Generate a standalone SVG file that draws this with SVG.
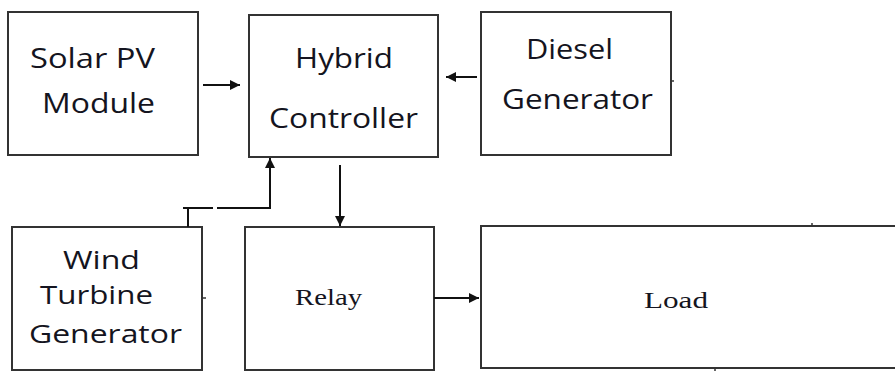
<svg xmlns="http://www.w3.org/2000/svg" width="895" height="371" viewBox="0 0 895 371">
  <defs>
    <marker id="arrow" viewBox="0 0 10 10" refX="10" refY="5" markerWidth="10" markerHeight="10" markerUnits="userSpaceOnUse" orient="auto">
      <path d="M0,0 L10,5 L0,10 Z" fill="#111"/>
    </marker>
    <style>
      .box { fill: #fff; stroke: #333; stroke-width: 2; }
      .line { fill: none; stroke: #111; stroke-width: 2; }
      .tick { fill: none; stroke: #333; stroke-width: 1.5; }
      .sans { font-family: "Open Sans", "Noto Sans", "DejaVu Sans", sans-serif; font-size: 28px; fill: #141420; }
      .tight { font-size: 25px; }
      .serif { font-family: "Liberation Serif", "DejaVu Serif", serif; font-size: 24px; fill: #141420; }
    </style>
  </defs>
  <rect width="895" height="371" fill="#fff"/>

  <g id="solar-pv">
    <rect class="box" x="8" y="12" width="190" height="143"/>
    <text class="sans" x="30" y="68" textLength="125" lengthAdjust="spacingAndGlyphs">Solar PV</text>
    <text class="sans" x="42" y="113" textLength="113" lengthAdjust="spacingAndGlyphs">Module</text>
  </g>

  <g id="hybrid-controller">
    <rect class="box" x="249" y="15" width="189" height="142"/>
    <text class="sans" x="295" y="68" textLength="98" lengthAdjust="spacingAndGlyphs">Hybrid</text>
    <text class="sans" x="269" y="128" textLength="149" lengthAdjust="spacingAndGlyphs">Controller</text>
  </g>

  <g id="diesel-generator">
    <rect class="box" x="481" y="12" width="190" height="143"/>
    <text class="sans" x="526" y="59" textLength="87" lengthAdjust="spacingAndGlyphs">Diesel</text>
    <text class="sans" x="502" y="109" textLength="151" lengthAdjust="spacingAndGlyphs">Generator</text>
    <path class="tick" d="M671,81 H674"/>
  </g>

  <g id="wind-turbine-generator">
    <rect class="box" x="12" y="227" width="190" height="143"/>
    <text class="sans tight" x="63" y="269" textLength="77" lengthAdjust="spacingAndGlyphs">Wind</text>
    <text class="sans tight" x="40" y="304" textLength="113" lengthAdjust="spacingAndGlyphs">Turbine</text>
    <text class="sans tight" x="29" y="343" textLength="153" lengthAdjust="spacingAndGlyphs">Generator</text>
    <path class="tick" d="M202,298 H206"/>
  </g>

  <g id="relay">
    <rect class="box" x="245" y="227" width="189" height="143"/>
    <text class="serif" x="295" y="305" textLength="67" lengthAdjust="spacingAndGlyphs">Relay</text>
  </g>

  <g id="load">
    <rect class="box" x="481" y="226" width="430" height="142"/>
    <text class="serif" x="644" y="308" textLength="64" lengthAdjust="spacingAndGlyphs">Load</text>
    <path class="tick" d="M812,226 V223"/>
    <path class="tick" d="M715,368 V371"/>
  </g>

  <g id="connectors">
    <!-- Solar PV to controller -->
    <path class="line" d="M203,85 H240" marker-end="url(#arrow)"/>
    <!-- Diesel to controller -->
    <path class="line" d="M477,77 H446" marker-end="url(#arrow)"/>
    <!-- Wind turbine up into controller -->
    <path class="line" d="M188,227 V208"/>
    <path class="line" d="M183,208 H213"/>
    <path class="line" d="M217,208 H270 V158" marker-end="url(#arrow)"/>
    <!-- Controller down to relay -->
    <path class="line" d="M340,165 V226" marker-end="url(#arrow)"/>
    <!-- Relay to load -->
    <path class="line" d="M434,298 H479" marker-end="url(#arrow)"/>
  </g>
</svg>
